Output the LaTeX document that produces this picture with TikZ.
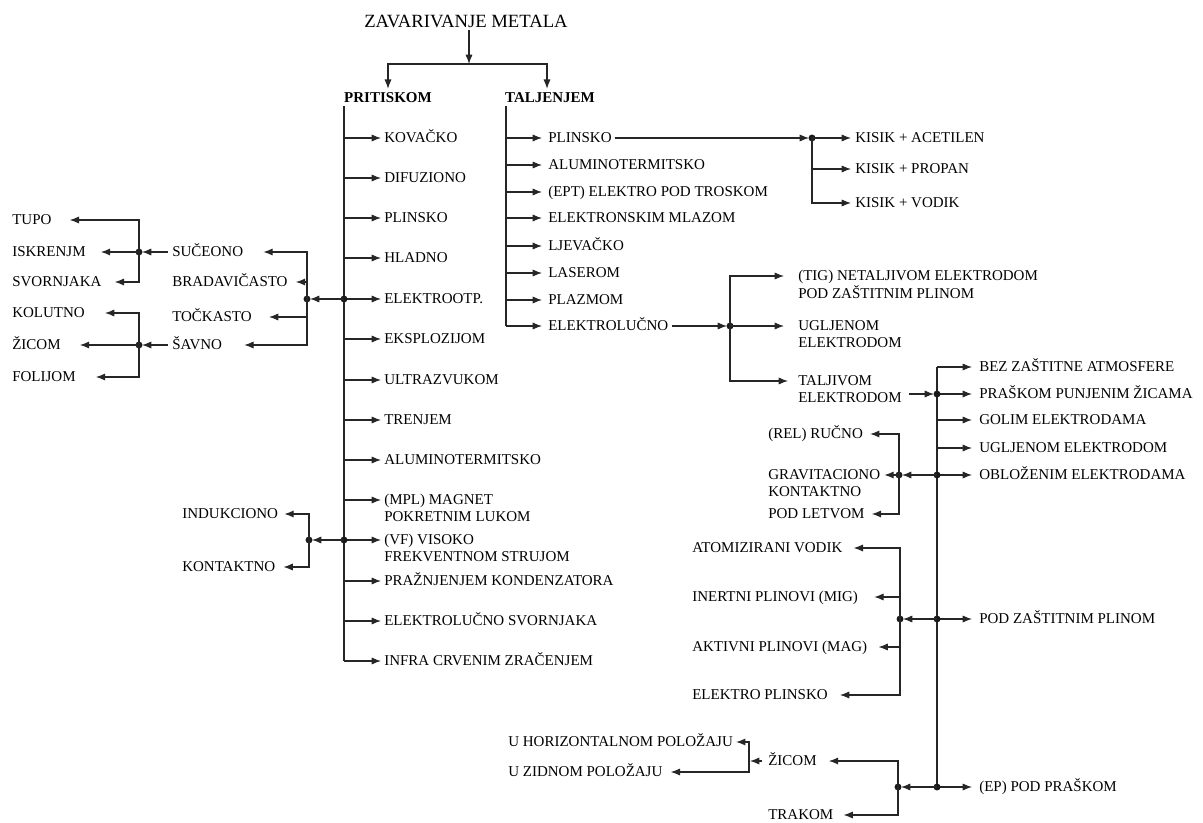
\documentclass[tikz,border=0pt]{standalone}
\usepackage{fontspec}
\setmainfont{Liberation Serif}
\usetikzlibrary{arrows.meta,calc}
\begin{document}
\begin{tikzpicture}[x=0.75pt,y=-0.75pt,
  ln/.style={line width=0.85pt, draw=black!85},
  arr/.style={ln, -{Latex[length=7pt,width=5.4pt]}},
  txt/.style={font=\fontsize{11.25}{13}\selectfont, inner sep=0pt, text height=7.4pt, text depth=0pt, anchor=west},
  head/.style={font=\fontsize{11.25}{13}\selectfont\bfseries, inner sep=0pt, text height=7.4pt, text depth=0pt},
  ttl/.style={font=\fontsize{14}{16}\selectfont, inner sep=0pt, text height=9.2pt, text depth=0pt},
  dot/.style={fill=black!90}]
\useasboundingbox (0,0) rectangle (1203,823);

% ---------- top ----------
\node[ttl] (root) at (466,21) {ZAVARIVANJE METALA};
\coordinate (split) at (469,64);
\node[head] (prit) at (388,98) {PRITISKOM};
\node[head] (talj) at (550,98) {TALJENJEM};
\draw[arr] ($(root.south -| split)+(0,3)$) -- (split);
\draw[arr] (split) -| ($(prit.north)+(0,-4)$);
\draw[arr] (split) -| ($(talj.north)+(-3,-4)$);

% ---------- PRITISKOM column ----------
\coordinate (pv) at (344,106);
\node[txt] (kov) at (384,138) {KOVAČKO};
\node[txt] (dif) at (384,178) {DIFUZIONO};
\node[txt] (plp) at (384,218) {PLINSKO};
\node[txt] (hla) at (384,258) {HLADNO};
\node[txt] (elo) at (384,299) {ELEKTROOTP.};
\node[txt] (eks) at (384,339) {EKSPLOZIJOM};
\node[txt] (ult) at (384,380) {ULTRAZVUKOM};
\node[txt] (tre) at (384,420) {TRENJEM};
\node[txt] (alp) at (384,460) {ALUMINOTERMITSKO};
\node[txt] (mpl) at (384,500) {(MPL) MAGNET};
\node[txt] (mpl2) at (384,517) {POKRETNIM LUKOM};
\node[txt] (vf) at (384,540) {(VF) VISOKO};
\node[txt] (vf2) at (384,557) {FREKVENTNOM STRUJOM};
\node[txt] (pra) at (384,581) {PRAŽNJENJEM KONDENZATORA};
\node[txt] (els) at (384,621) {ELEKTROLUČNO SVORNJAKA};
\node[txt] (inf) at (384,661) {INFRA CRVENIM ZRAČENJEM};
\draw[ln] (pv) -- (pv |- inf);
\foreach \n in {kov,dif,plp,hla,elo,eks,ult,tre,alp,mpl,vf,pra,els,inf}
  \draw[arr] (pv |- \n) -- ($(\n.west)+(-3,0)$);

% left of ELEKTROOTP.
\coordinate (l1) at (307,299);
\fill[dot] (pv |- elo) circle (2.6pt);
\fill[dot] (l1) circle (2.6pt);
\draw[arr] (pv |- elo) -- ($(l1)+(3,0)$);
\node[txt] (suc) at (172,252) {SUČEONO};
\node[txt] (brd) at (172,282) {BRADAVIČASTO};
\node[txt] (toc) at (172,317) {TOČKASTO};
\node[txt] (sav) at (172,345) {ŠAVNO};
\draw[arr] (l1) |- ($(suc.east)+(20,0)$);
\draw[arr] (l1) |- ($(brd.east)+(8,0)$);
\draw[arr] (l1) |- ($(toc.east)+(17,0)$);
\draw[arr] (l1) |- ($(sav.east)+(22,0)$);

\coordinate (l2) at (139,252);
\fill[dot] (l2) circle (2.6pt);
\draw[arr] ($(suc.west)+(-4,0)$) -- ($(l2)+(3,0)$);
\node[txt] (tup) at (12,220) {TUPO};
\node[txt] (isk) at (12,252) {ISKRENJM};
\node[txt] (svo) at (12,282) {SVORNJAKA};
\draw[arr] (l2) |- ($(tup.east)+(18,0)$);
\draw[arr] (l2) -- ($(isk.east)+(15,0)$);
\draw[arr] (l2) |- ($(svo.east)+(13,0)$);

\coordinate (l3) at (139,345);
\fill[dot] (l3) circle (2.6pt);
\draw[arr] ($(sav.west)+(-4,0)$) -- ($(l3)+(3,0)$);
\node[txt] (kol) at (12,313) {KOLUTNO};
\node[txt] (zi1) at (12,345) {ŽICOM};
\node[txt] (fol) at (12,377) {FOLIJOM};
\draw[arr] (l3) |- ($(kol.east)+(20,0)$);
\draw[arr] (l3) -- ($(zi1.east)+(19,0)$);
\draw[arr] (l3) |- ($(fol.east)+(20,0)$);

% left of (VF)
\coordinate (l4) at (309,540);
\fill[dot] (pv |- vf) circle (2.6pt);
\fill[dot] (l4) circle (2.6pt);
\draw[arr] (pv |- vf) -- ($(l4)+(3,0)$);
\node[txt] (ind) at (182,514) {INDUKCIONO};
\node[txt] (kon) at (182,567) {KONTAKTNO};
\draw[arr] (l4) |- ($(ind.east)+(6,0)$);
\draw[arr] (l4) |- ($(kon.east)+(8,0)$);

% ---------- TALJENJEM column ----------
\coordinate (tv) at (506,106);
\node[txt] (plt) at (548,138) {PLINSKO};
\node[txt] (alt) at (548,165) {ALUMINOTERMITSKO};
\node[txt] (ept) at (548,192) {(EPT) ELEKTRO POD TROSKOM};
\node[txt] (elm) at (548,218) {ELEKTRONSKIM MLAZOM};
\node[txt] (ljv) at (548,246) {LJEVAČKO};
\node[txt] (las) at (548,273) {LASEROM};
\node[txt] (plz) at (548,300) {PLAZMOM};
\node[txt] (elt) at (548,326) {ELEKTROLUČNO};
\draw[ln] (tv) -- (tv |- elt);
\foreach \n in {plt,alt,ept,elm,ljv,las,plz,elt}
  \draw[arr] (tv |- \n) -- ($(\n.west)+(-6,0)$);

% PLINSKO -> KISIK
\coordinate (kb) at (812,138);
\fill[dot] (kb) circle (2.6pt);
\draw[arr] ($(plt.east)+(3,0)$) -- ($(kb)+(-3,0)$);
\node[txt] (kac) at (855,138) {KISIK + ACETILEN};
\node[txt] (kpr) at (855,169) {KISIK + PROPAN};
\node[txt] (kvo) at (855,203) {KISIK + VODIK};
\draw[arr] (kb) -- ($(kac.west)+(-4,0)$);
\draw[arr] (kb) |- ($(kpr.west)+(-4,0)$);
\draw[arr] (kb) |- ($(kvo.west)+(-4,0)$);

% ELEKTROLUCNO
\coordinate (eb) at (730,326);
\fill[dot] (eb) circle (2.6pt);
\draw[arr] ($(elt.east)+(3,0)$) -- ($(eb)+(-3,0)$);
\node[txt] (tig) at (798,276) {(TIG) NETALJIVOM ELEKTRODOM};
\node[txt] (tig2) at (798,294) {POD ZAŠTITNIM PLINOM};
\node[txt] (ugl) at (798,326) {UGLJENOM};
\node[txt] (ugl2) at (798,343) {ELEKTRODOM};
\node[txt] (tlj) at (798,381) {TALJIVOM};
\node[txt] (tlj2) at (798,398) {ELEKTRODOM};
\draw[arr] (eb) |- ($(tig.west)+(-14,0)$);
\draw[arr] (eb) -- ($(ugl.west)+(-14,0)$);
\draw[arr] (eb) |- ($(tlj.west)+(-10,0)$);

% ---------- right main column ----------
\coordinate (rv) at (937,367);
\node[txt] (bez) at (979,367) {BEZ ZAŠTITNE ATMOSFERE};
\node[txt] (prs) at (979,394) {PRAŠKOM PUNJENIM ŽICAMA};
\node[txt] (gol) at (979,420) {GOLIM ELEKTRODAMA};
\node[txt] (uge) at (979,448) {UGLJENOM ELEKTRODOM};
\node[txt] (obl) at (979,475) {OBLOŽENIM ELEKTRODAMA};
\node[txt] (pzp) at (979,619) {POD ZAŠTITNIM PLINOM};
\node[txt] (epp) at (979,787) {(EP) POD PRAŠKOM};
\draw[ln] (rv) -- (rv |- epp);
\foreach \n in {bez,prs,gol,uge,obl,pzp,epp}
  \draw[arr] (rv |- \n) -- ($(\n.west)+(-7,0)$);
\foreach \n in {prs,obl,pzp,epp}
  \fill[dot] (rv |- \n) circle (2.6pt);
\path ($(tlj2.east)+(7,0)$) coordinate (tle);
\draw[arr] (tle |- prs) -- ($(rv |- prs)+(-3,0)$);

% OBLOZENIM -> left
\coordinate (rb) at (899,475);
\fill[dot] (rb) circle (2.6pt);
\draw[arr] (rv |- obl) -- ($(rb)+(3,0)$);
\node[txt] (rel) at (768,434) {(REL) RUČNO};
\node[txt] (grv) at (768,475) {GRAVITACIONO};
\node[txt] (grv2) at (768,492) {KONTAKTNO};
\node[txt] (pdl) at (768,514) {POD LETVOM};
\draw[arr] (rb) |- ($(rel.east)+(7,0)$);
\draw[arr] (rb) -- ($(grv.east)+(4,0)$);
\draw[arr] (rb) |- ($(pdl.east)+(7,0)$);

% POD ZASTITNIM PLINOM -> left
\coordinate (gb) at (900,619);
\fill[dot] (gb) circle (2.6pt);
\draw[arr] (rv |- pzp) -- ($(gb)+(3,0)$);
\node[txt] (atv) at (692,548) {ATOMIZIRANI VODIK};
\node[txt] (inp) at (692,597) {INERTNI PLINOVI (MIG)};
\node[txt] (akp) at (692,647) {AKTIVNI PLINOVI (MAG)};
\node[txt] (epl) at (692,695) {ELEKTRO PLINSKO};
\draw[arr] (gb) |- ($(atv.east)+(11,0)$);
\draw[arr] (gb) |- ($(inp.east)+(16,0)$);
\draw[arr] (gb) |- ($(akp.east)+(11,0)$);
\draw[arr] (gb) |- ($(epl.east)+(12,0)$);

% (EP) POD PRASKOM -> left
\coordinate (pb) at (898,787);
\fill[dot] (pb) circle (2.6pt);
\draw[arr] (rv |- epp) -- ($(pb)+(3,0)$);
\node[txt] (zic) at (768,761) {ŽICOM};
\node[txt] (trk) at (768,815) {TRAKOM};
\draw[arr] (pb) |- ($(zic.east)+(12,0)$);
\draw[arr] (pb) |- ($(trk.east)+(10,0)$);

\coordinate (zb) at (749,761);
\draw[arr] ($(zic.west)+(-6,0)$) -- ($(zb)+(1,0)$);
\node[txt] (uhp) at (508,742) {U HORIZONTALNOM POLOŽAJU};
\node[txt] (uzp) at (508,772) {U ZIDNOM POLOŽAJU};
\draw[arr] (zb) |- ($(uhp.east)+(3,0)$);
\draw[arr] (zb) |- ($(uzp.east)+(8,0)$);
\end{tikzpicture}
\end{document}
